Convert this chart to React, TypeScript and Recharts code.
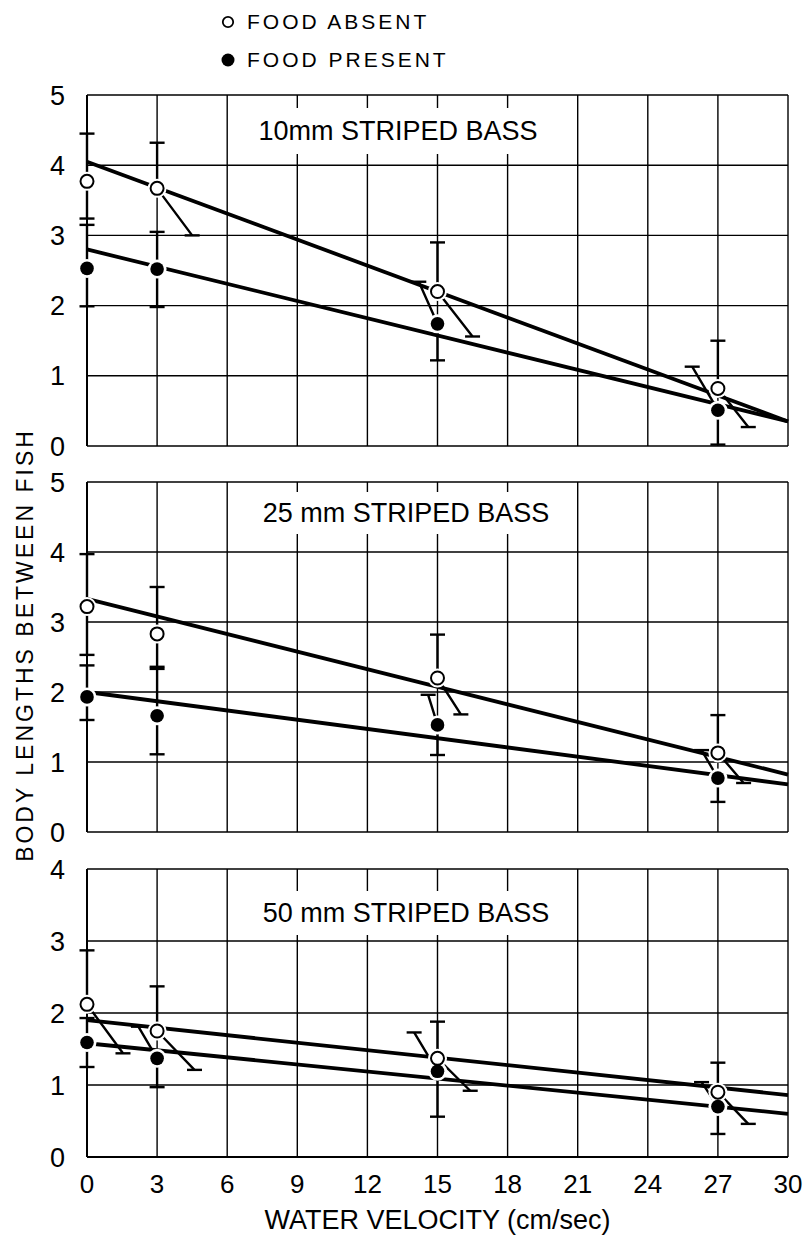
import React from "react";
import {
  ComposedChart, Line, Scatter, XAxis, YAxis,
  CartesianGrid, Legend,
} from "recharts";

const FONT = "'Liberation Sans', Arial, Helvetica, sans-serif";

const VELOCITY = [0, 3, 15, 27];
const X_TICKS = [0, 3, 6, 9, 12, 15, 18, 21, 24, 27, 30];
const FIT_X = [0, 30];
const STRAIGHT = [null, null, null, null];
const LEGEND_NAMES = ["FOOD ABSENT", "FOOD PRESENT"];

// 10 mm
const B10_ABSENT = [3.77, 3.67, 2.2, 0.82];
const B10_ABSENT_HI = [4.45, 4.32, 2.9, 1.5];
const B10_ABSENT_LO = [3.24, 3.0, 1.56, 0.27];
const B10_ABSENT_LO_X = [null, 4.5, 16.5, 28.3];
const B10_PRESENT = [2.53, 2.52, 1.74, 0.51];
const B10_PRESENT_HI = [3.15, 3.05, 2.34, 1.13];
const B10_PRESENT_HI_X = [null, null, 14.2, 25.9];
const B10_PRESENT_LO = [1.99, 1.98, 1.22, 0.02];
const B10_FIT_ABSENT = [4.05, 0.35];
const B10_FIT_PRESENT = [2.8, 0.35];

// 25 mm
const B25_ABSENT = [3.22, 2.83, 2.2, 1.13];
const B25_ABSENT_HI = [3.97, 3.5, 2.82, 1.67];
const B25_ABSENT_LO = [2.53, 2.36, 1.68, 0.7];
const B25_ABSENT_LO_X = [null, null, 16.0, 28.1];
const B25_PRESENT = [1.93, 1.66, 1.53, 0.77];
const B25_PRESENT_HI = [2.38, 2.33, 1.96, 1.17];
const B25_PRESENT_HI_X = [null, null, 14.6, 26.3];
const B25_PRESENT_LO = [1.6, 1.11, 1.1, 0.43];
const B25_FIT_ABSENT = [3.33, 0.82];
const B25_FIT_PRESENT = [2.0, 0.68];

// 50 mm
const B50_ABSENT = [2.12, 1.75, 1.37, 0.9];
const B50_ABSENT_HI = [2.87, 2.37, 1.88, 1.31];
const B50_ABSENT_LO = [1.44, 1.21, 0.92, 0.46];
const B50_ABSENT_LO_X = [1.54, 4.6, 16.4, 28.3];
const B50_PRESENT = [1.59, 1.37, 1.19, 0.7];
const B50_PRESENT_HI = [1.93, 1.81, 1.73, 1.04];
const B50_PRESENT_HI_X = [null, 2.2, 14.0, 26.3];
const B50_PRESENT_LO = [1.25, 0.97, 0.56, 0.32];
const B50_FIT_ABSENT = [1.9, 0.86];
const B50_FIT_PRESENT = [1.58, 0.6];

type Num = number | null;
type Series = { y: number[]; hi: number[]; hiX: Num[]; lo: number[]; loX: Num[] };

const points = (ys: number[]) => VELOCITY.map((x, i) => ({ x, y: ys[i] }));
const fit = (ys: number[]) => FIT_X.map((x, i) => ({ x, y: ys[i] }));

// each bar runs from the point to its end, then a null breaks the line
function bars(s: Series) {
  const out: { x: number; y: number | null; cap?: boolean }[] = [];
  VELOCITY.forEach((x, i) => {
    const hx = s.hiX[i] ?? x;
    const lx = s.loX[i] ?? x;
    out.push({ x, y: s.y[i] }, { x: hx, y: s.hi[i], cap: true }, { x: hx, y: null });
    out.push({ x, y: s.y[i] }, { x: lx, y: s.lo[i], cap: true }, { x: lx, y: null });
  });
  return out;
}

const capDot = (props: any) => {
  const { cx, cy, payload, index } = props;
  if (!payload || !payload.cap || cy == null || cx == null) return <g key={`c${index}`} />;
  return (
    <line key={`c${index}`} x1={cx - 7.5} x2={cx + 7.5} y1={cy} y2={cy}
      stroke="#000" strokeWidth={2.4} />
  );
};

const openDot = (props: any) => (
  <circle cx={props.cx} cy={props.cy} r={6.5} fill="#fff" stroke="#000" strokeWidth={2} />
);
const solidDot = (props: any) => (
  <circle cx={props.cx} cy={props.cy} r={6.8} fill="#000" />
);
const halo = (props: any) => (
  <circle cx={props.cx} cy={props.cy} r={9.5} fill="#fff" />
);

const renderLegend = (props: any) => (
  <div style={{ fontFamily: FONT, fontSize: 21, color: "#000" }}>
    {(props.payload || [])
      .filter((e: any) => LEGEND_NAMES.includes(e.value))
      .map((e: any) => (
        <div key={e.value} style={{ display: "flex", alignItems: "center", height: 38 }}>
          <svg width={16} height={16}>
            {e.value === "FOOD ABSENT"
              ? <circle cx={8} cy={8} r={5.2} fill="#fff" stroke="#000" strokeWidth={1.8} />
              : <circle cx={8} cy={8} r={6.5} fill="#000" />}
          </svg>
          <span style={{ marginLeft: 11, letterSpacing: 3, whiteSpace: "nowrap" }}>{e.value}</span>
        </div>
      ))}
  </div>
);

const xTitle = (props: any) => {
  const vb = props.viewBox || { x: 0, y: 0, width: 0 };
  return (
    <text x={vb.x + vb.width / 2} y={vb.y + 72} textAnchor="middle"
      fontSize={27} fontFamily={FONT} fill="#000">
      WATER VELOCITY (cm/sec)
    </text>
  );
};

type PanelProps = {
  title: string;
  yTicks: number[];
  absent: Series;
  present: Series;
  fitAbsent: number[];
  fitPresent: number[];
  top: number;
  height: number;
  marginTop: number;
  marginBottom: number;
  showX?: boolean;
  legend?: boolean;
  titleBox: { cx: number; cy: number; w: number; h: number };
};

function Panel(p: PanelProps) {
  const tick = { fill: "#000", fontSize: 27, fontFamily: FONT };
  const yMax = p.yTicks[p.yTicks.length - 1];
  return (
    <div style={{ position: "absolute", left: 0, top: p.top, width: 811, height: p.height }}>
      <ComposedChart width={811} height={p.height}
        margin={{ top: p.marginTop, right: 23, bottom: p.marginBottom, left: 0 }}>
        <CartesianGrid stroke="#000" strokeWidth={1.4} />
        <XAxis type="number" dataKey="x" domain={[0, 30]} ticks={X_TICKS} interval={0}
          hide={!p.showX} height={79} tickSize={0} tickMargin={18}
          tick={{ ...tick, fontSize: 26 }} axisLine={{ stroke: "#000", strokeWidth: 2 }}
          tickLine={false} label={p.showX ? { content: xTitle } : undefined} />
        <YAxis type="number" dataKey="y" domain={[0, yMax]} ticks={p.yTicks} interval={0}
          width={87} tickSize={0} tickMargin={22} tick={tick}
          axisLine={{ stroke: "#000", strokeWidth: 2 }} tickLine={false} />
        {p.legend && (
          <Legend content={renderLegend} layout="vertical" align="center" verticalAlign="middle"
            wrapperStyle={{ position: "absolute", top: 3, left: 220, width: 260 }} />
        )}
        <Line data={fit(p.fitAbsent)} dataKey="y" stroke="#000" strokeWidth={3.8}
          dot={false} legendType="none" isAnimationActive={false} />
        <Line data={fit(p.fitPresent)} dataKey="y" stroke="#000" strokeWidth={3.8}
          dot={false} legendType="none" isAnimationActive={false} />
        <Scatter data={[...points(p.absent.y), ...points(p.present.y)]} shape={halo}
          legendType="none" isAnimationActive={false} />
        <Line data={bars(p.absent)} dataKey="y" stroke="#000" strokeWidth={2.4}
          dot={capDot} activeDot={false} connectNulls={false} legendType="none"
          isAnimationActive={false} />
        <Line data={bars(p.present)} dataKey="y" stroke="#000" strokeWidth={2.4}
          dot={capDot} activeDot={false} connectNulls={false} legendType="none"
          isAnimationActive={false} />
        <Scatter name="FOOD ABSENT" data={points(p.absent.y)} shape={openDot}
          isAnimationActive={false} />
        <Scatter name="FOOD PRESENT" data={points(p.present.y)} shape={solidDot}
          isAnimationActive={false} />
      </ComposedChart>
      <div style={{
        position: "absolute",
        left: p.titleBox.cx - p.titleBox.w / 2,
        top: p.titleBox.cy - p.titleBox.h / 2 - p.top,
        width: p.titleBox.w, height: p.titleBox.h, lineHeight: `${p.titleBox.h}px`,
        background: "#fff", textAlign: "center", whiteSpace: "nowrap",
        fontFamily: FONT, fontSize: 27, color: "#000",
      }}>
        {p.title}
      </div>
    </div>
  );
}

export default function App() {
  return (
    <div style={{ position: "absolute", left: 0, top: 0, width: 811, height: 1236, background: "#fff" }}>
      <Panel title="10mm STRIPED BASS" yTicks={[0, 1, 2, 3, 4, 5]}
        absent={{ y: B10_ABSENT, hi: B10_ABSENT_HI, hiX: STRAIGHT, lo: B10_ABSENT_LO, loX: B10_ABSENT_LO_X }}
        present={{ y: B10_PRESENT, hi: B10_PRESENT_HI, hiX: B10_PRESENT_HI_X, lo: B10_PRESENT_LO, loX: STRAIGHT }}
        fitAbsent={B10_FIT_ABSENT} fitPresent={B10_FIT_PRESENT}
        top={0} height={475} marginTop={95} marginBottom={29} legend
        titleBox={{ cx: 398, cy: 131, w: 298, h: 46 }} />
      <Panel title="25 mm STRIPED BASS" yTicks={[0, 1, 2, 3, 4, 5]}
        absent={{ y: B25_ABSENT, hi: B25_ABSENT_HI, hiX: STRAIGHT, lo: B25_ABSENT_LO, loX: B25_ABSENT_LO_X }}
        present={{ y: B25_PRESENT, hi: B25_PRESENT_HI, hiX: B25_PRESENT_HI_X, lo: B25_PRESENT_LO, loX: STRAIGHT }}
        fitAbsent={B25_FIT_ABSENT} fitPresent={B25_FIT_PRESENT}
        top={460} height={395} marginTop={22} marginBottom={23}
        titleBox={{ cx: 406, cy: 513, w: 306, h: 42 }} />
      <Panel title="50 mm STRIPED BASS" yTicks={[0, 1, 2, 3, 4]}
        absent={{ y: B50_ABSENT, hi: B50_ABSENT_HI, hiX: STRAIGHT, lo: B50_ABSENT_LO, loX: B50_ABSENT_LO_X }}
        present={{ y: B50_PRESENT, hi: B50_PRESENT_HI, hiX: B50_PRESENT_HI_X, lo: B50_PRESENT_LO, loX: STRAIGHT }}
        fitAbsent={B50_FIT_ABSENT} fitPresent={B50_FIT_PRESENT}
        top={848} height={388} marginTop={21} marginBottom={0} showX
        titleBox={{ cx: 406, cy: 913, w: 306, h: 44 }} />
      <div style={{
        position: "absolute", left: 25 - 225, top: 645 - 14, width: 450, height: 28,
        lineHeight: "28px", textAlign: "center", transform: "rotate(-90deg)",
        fontFamily: FONT, fontSize: 23, letterSpacing: 3, whiteSpace: "nowrap", color: "#000",
      }}>
        BODY LENGTHS BETWEEN FISH
      </div>
    </div>
  );
}
